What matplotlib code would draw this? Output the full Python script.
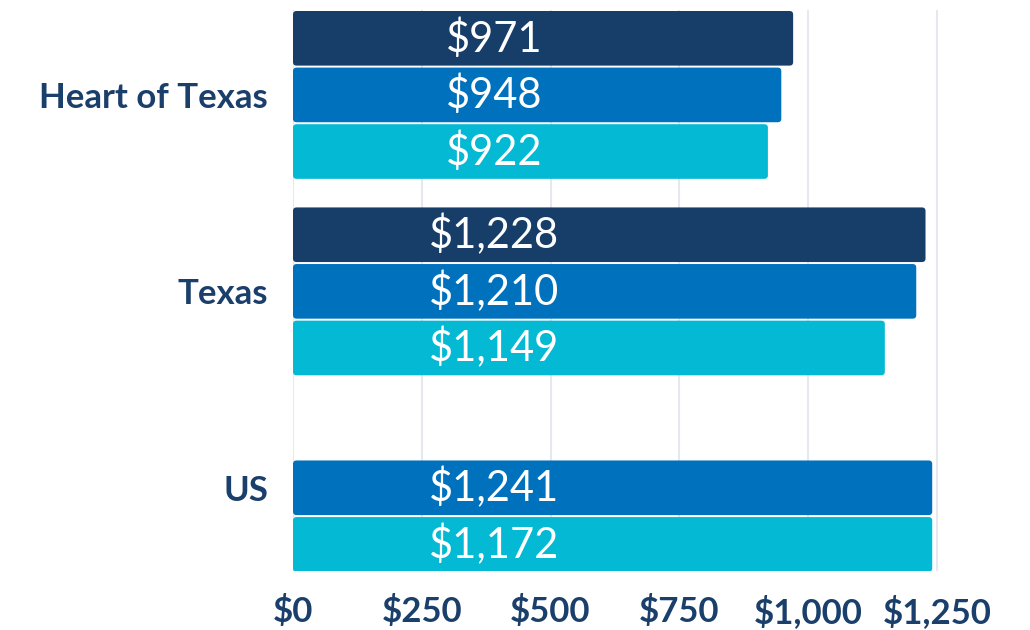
import matplotlib.pyplot as plt
import numpy as np
from matplotlib.patches import FancyBboxPatch

plt.rcParams['font.family'] = ['Lato', 'DejaVu Sans']

groups = ["Heart of Texas", "Texas", "US"]
# bar lengths as drawn, one list per series (first series has no US bar)
series1 = [971, 1228, np.nan]
series2 = [948, 1210, 1241]
series3 = [922, 1149, 1241]
labels1 = ["$971", "$1,228", ""]
labels2 = ["$948", "$1,210", "$1,241"]
labels3 = ["$922", "$1,149", "$1,172"]
xticks = [0, 250, 500, 750, 1000, 1250]
xticklabels = ["$0", "$250", "$500", "$750", "$1,000", "$1,250"]

colors = ["#173D69", "#0071BC", "#03B9D3"]
navy = "#1B3F6B"

fig = plt.figure(figsize=(10.3, 6.3), dpi=100)
ax = fig.add_axes([293/1030, 1-571/630, 649/1030, 561/630])

pitch = 3.47
base = np.arange(len(groups)) * pitch
allseries = [series1, series2, series3]
alllabels = [labels1, labels2, labels3]
for j in range(3):
    y = base + j
    bars = ax.barh(y, allseries[j], height=0.965, color=colors[j], zorder=2)
    for b in bars:
        w = b.get_width()
        if np.isnan(w) or w == 0:
            continue
        b.set_visible(False)
        p = FancyBboxPatch((b.get_x(), b.get_y()), w, b.get_height(),
                           boxstyle="round,pad=0,rounding_size=7",
                           mutation_aspect=0.0088,
                           fc=colors[j], ec="none", zorder=2)
        ax.add_patch(p)
    for yy, lab in zip(y, alllabels[j]):
        if lab:
            ax.text(390, yy, lab, color="white", fontsize=30, ha="center",
                    va="center", zorder=3)

ax.set_xlim(0, 1260)
ax.set_ylim(base[-1] + 2.47, -0.5)
ax.set_xticks(xticks)
ax.set_xticklabels(xticklabels, fontsize=25, fontweight="bold", color=navy)
ax.set_yticks(base + 1)
ax.set_yticklabels(groups, fontsize=25, fontweight="bold", color=navy)
ax.tick_params(axis="x", length=0, pad=17)
ax.tick_params(axis="y", length=0, pad=18)
ax.grid(axis="x", color="#E6E8EE", linewidth=1.5, zorder=0)
for s in ax.spines.values():
    s.set_visible(False)

fig.savefig("out.png", dpi=100)
